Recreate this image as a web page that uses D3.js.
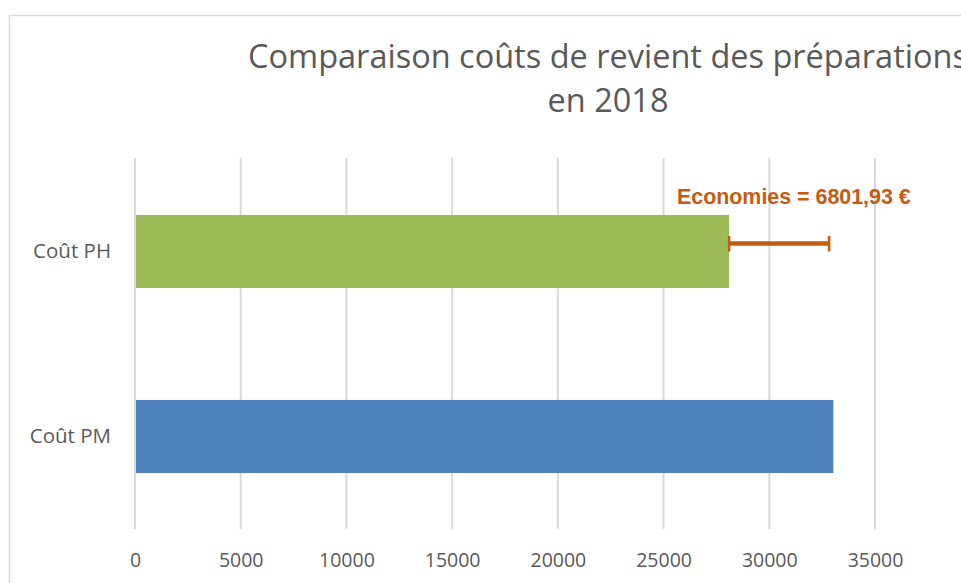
<!DOCTYPE html>
<html>
<head>
<meta charset="utf-8">
<script src="https://cdn.jsdelivr.net/npm/d3@7"></script>
<style>
  body { margin: 0; background: #fff; }
</style>
</head>
<body>
<script>
// Comparaison des couts (barres horizontales)
var width = 961, height = 583;

// data
var categories = ["Coût PH", "Coût PM"];
var costs = [28100, 33030];
var colors = ["#9BBB59", "#4F81BD"];
var errorPlus = [4730, 0];
var xTicks = [0, 5000, 10000, 15000, 20000, 25000, 30000, 35000];
var titleLines = ["Comparaison coûts de revient des préparations", "en 2018"];
var economyLabel = "Economies = 6801,93 €";

var svg = d3.select("body").append("svg")
  .attr("width", width)
  .attr("height", height);

// chart frame (cut off on right and bottom)
svg.append("rect")
  .attr("x", 9.5).attr("y", 15.5)
  .attr("width", 1000).attr("height", 700)
  .attr("fill", "#fff")
  .attr("stroke", "#d9d9d9")
  .attr("stroke-width", 1.5);

var xScale = d3.scaleLinear()
  .domain([0, 35000])
  .range([135, 875]);

var yScale = d3.scaleBand()
  .domain(categories)
  .range([159, 529])
  .paddingInner(0.605)
  .paddingOuter(0.3025);

// grid lines
svg.append("g")
  .selectAll("line")
  .data(xTicks.slice(1))
  .enter().append("line")
    .attr("x1", function(d) { return xScale(d); })
    .attr("x2", function(d) { return xScale(d); })
    .attr("y1", 158)
    .attr("y2", 529)
    .attr("stroke", "#d9d9d9")
    .attr("stroke-width", 2);

// x axis labels
var xAxis = svg.append("g")
  .attr("transform", "translate(0,529)")
  .call(d3.axisBottom(xScale).tickValues(xTicks).tickFormat(d3.format("d"))
    .tickSize(0).tickPadding(24));
xAxis.select(".domain").remove();
xAxis.selectAll("text")
  .attr("fill", "#595959")
  .style("font-family", "'Open Sans', sans-serif")
  .style("font-size", "19.5px");

// bars
svg.selectAll(".bar")
  .data(categories)
  .enter().append("rect")
    .attr("class", "bar")
    .attr("x", xScale(0))
    .attr("y", function(d) { return yScale(d); })
    .attr("width", function(d, i) { return xScale(costs[i]) - xScale(0); })
    .attr("height", yScale.bandwidth())
    .attr("fill", function(d, i) { return colors[i]; });

// vertical axis line
svg.append("line")
  .attr("x1", 135).attr("x2", 135)
  .attr("y1", 158).attr("y2", 529)
  .attr("stroke", "#d9d9d9")
  .attr("stroke-width", 2);

// y axis labels
var yAxis = svg.append("g")
  .attr("transform", "translate(135,0)")
  .call(d3.axisLeft(yScale).tickSize(0).tickPadding(24));
yAxis.select(".domain").remove();
yAxis.selectAll("text")
  .attr("fill", "#595959")
  .style("font-family", "'Open Sans', sans-serif")
  .style("font-size", "20.5px");

// error bar (economies)
var errG = svg.append("g");
categories.forEach(function(c, i) {
  if (!errorPlus[i]) return;
  var x0 = xScale(costs[i]), x1 = xScale(costs[i] + errorPlus[i]);
  var yc = yScale(c) + yScale.bandwidth() / 2 - 8;
  errG.append("line")
    .attr("x1", x0).attr("x2", x1).attr("y1", yc).attr("y2", yc)
    .attr("stroke", "#C55A11").attr("stroke-width", 4.5);
  [x0, x1].forEach(function(x) {
    errG.append("line")
      .attr("x1", x).attr("x2", x).attr("y1", yc - 7.5).attr("y2", yc + 8)
      .attr("stroke", "#C55A11").attr("stroke-width", 2.5);
  });
});

svg.append("text")
  .attr("x", 677).attr("y", 204)
  .attr("fill", "#C55A11")
  .style("font-family", "'Liberation Sans', Arial, sans-serif")
  .style("font-weight", "bold")
  .style("font-size", "21.4px")
  .text(economyLabel);

// title
svg.append("g").selectAll("text")
  .data(titleLines)
  .enter().append("text")
    .attr("x", 608)
    .attr("y", function(d, i) { return 68 + i * 44; })
    .attr("text-anchor", "middle")
    .attr("fill", "#595959")
    .style("font-family", "'Open Sans', sans-serif")
    .style("font-size", "32.5px")
    .text(function(d) { return d; });
</script>
</body>
</html>
